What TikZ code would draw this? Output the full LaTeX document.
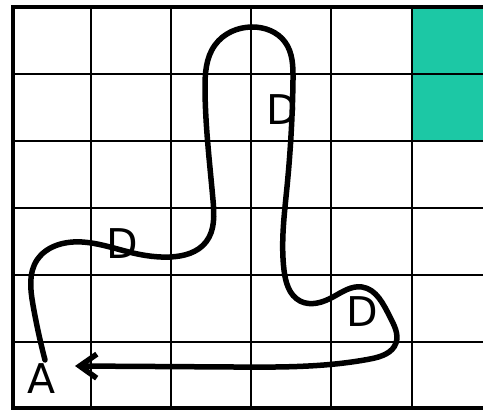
\documentclass[tikz,border=0pt]{standalone}
\usepackage{fontspec}
\setmainfont{DejaVu Sans}
\usetikzlibrary{arrows.meta,hobby}
\definecolor{teal1}{RGB}{28,200,165}
\tikzset{
  gridline/.style={line width=2pt, black},
  frame/.style={line width=4.5pt, black},
  route/.style={line width=5.5pt, black, line cap=round, line join=round},
  lbl/.style={font=\fontsize{41}{41}\selectfont, inner sep=0pt}
}
\begin{document}
\begin{tikzpicture}[x=1pt,y=-1pt]
\useasboundingbox (0,0) rectangle (483,411);
\fill[white] (0,0) rectangle (483,411);
\fill[teal1] (412,7) rectangle (483,141);
% grid
\foreach \x in {91,171,251,331,412} \draw[gridline] (\x,7) -- (\x,408);
\foreach \y in {74,141,208,275,342} \draw[gridline] (13,\y) -- (483,\y);
% frame
\draw[frame] (483,7) -- (13,7) -- (13,408) -- (483,408);
% labels
\node[lbl] (A) at (42,379) {A};
\node[lbl] (D1) at (282,110) {D};
\node[lbl] (D2) at (122,244) {D};
\node[lbl] (D3) at (362,312) {D};
\coordinate (s) at (45,360);
\coordinate (e) at (75,366);
% route
\draw[route, use Hobby shortcut, -{Straight Barb[length=17pt,width=24pt]}]
 (s) .. (33,305) .. (37,260) .. (65,243)
 .. (133,253) .. (170,257) .. (206,242) .. (213,200)
 .. (205,90) .. (215,45) .. (252,27) .. (285,42) .. (293,80)
 .. (287,187) .. (284,270) .. (300,301) .. (333,297)
 .. (362,287) .. (390,317) .. (396,343) .. (370,359)
 .. (233,367) .. (e);
\end{tikzpicture}
\end{document}
